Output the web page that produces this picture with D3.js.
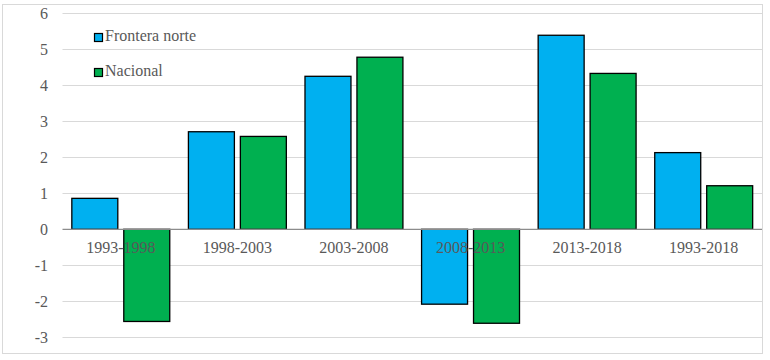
<!DOCTYPE html>
<html>
<head>
<meta charset="utf-8">
<script src="https://cdn.jsdelivr.net/npm/d3@7"></script>
<style>
  body { margin: 0; background: #fff; }
</style>
</head>
<body>
<script>
// Data
const periods = ["1993-1998", "1998-2003", "2003-2008", "2008-2013", "2013-2018", "1993-2018"];
const series = ["Frontera norte", "Nacional"];
const fronteraNorte = [0.86, 2.71, 4.25, -2.08, 5.39, 2.13];
const nacional = [-2.56, 2.58, 4.78, -2.61, 4.33, 1.21];
const yTicks = [-3, -2, -1, 0, 1, 2, 3, 4, 5, 6];
const colors = ["#00b0f0", "#00b050"];

const width = 770;
const height = 360;
const margin = {top: 13.3, right: 8, bottom: 22.7, left: 62.5};
const font = "Liberation Serif";

const svg = d3.select("body").append("svg")
    .attr("width", width)
    .attr("height", height);

// outer chart border
svg.append("rect")
    .attr("x", 2.5).attr("y", 4.5)
    .attr("width", 760).attr("height", 349)
    .attr("fill", "none")
    .attr("stroke", "#d9d9d9");

const x = d3.scaleBand()
    .domain(periods)
    .range([margin.left, width - margin.right])
    .paddingInner(0.16)
    .paddingOuter(0.08);

const xSub = d3.scaleBand()
    .domain(series)
    .range([0, x.bandwidth()])
    .paddingInner(0.115);

const y = d3.scaleLinear()
    .domain([-3, 6])
    .range([height - margin.bottom, margin.top]);

// gridlines
svg.append("g")
    .selectAll("line")
    .data(yTicks.filter(d => d !== 0))
    .enter()
    .append("line")
    .attr("x1", margin.left)
    .attr("x2", width - margin.right)
    .attr("y1", d => Math.round(y(d)) + 0.5)
    .attr("y2", d => Math.round(y(d)) + 0.5)
    .attr("stroke", "#d9d9d9")
    .attr("stroke-width", 1);

// y tick labels
svg.append("g")
    .selectAll("text")
    .data(yTicks)
    .enter()
    .append("text")
    .attr("x", 48)
    .attr("y", d => y(d))
    .attr("dy", "0.33em")
    .attr("text-anchor", "end")
    .attr("font-family", font)
    .attr("font-size", 16)
    .attr("fill", "#595959")
    .text(d => d);

// bars
const rows = periods.map((p, i) => ({period: p, values: [fronteraNorte[i], nacional[i]]}));

const groups = svg.append("g")
    .selectAll("g")
    .data(rows)
    .enter()
    .append("g")
    .attr("transform", d => `translate(${x(d.period)},0)`);

groups.selectAll("rect")
    .data(d => d.values.map((v, j) => ({key: series[j], value: v, idx: j})))
    .enter()
    .append("rect")
    .attr("x", d => xSub(d.key))
    .attr("y", d => y(Math.max(0, d.value)))
    .attr("width", xSub.bandwidth())
    .attr("height", d => Math.abs(y(d.value) - y(0)))
    .attr("fill", d => colors[d.idx])
    .attr("stroke", "#000")
    .attr("stroke-width", 1.3);

// zero axis line
svg.append("line")
    .attr("x1", margin.left)
    .attr("x2", width - margin.right)
    .attr("y1", y(0))
    .attr("y2", y(0))
    .attr("stroke", "#8c8c8c")
    .attr("stroke-width", 1.3);

// category labels
svg.append("g")
    .selectAll("text")
    .data(periods)
    .enter()
    .append("text")
    .attr("x", d => x(d) + x.bandwidth() / 2)
    .attr("y", y(0) + 24)
    .attr("text-anchor", "middle")
    .attr("font-family", font)
    .attr("font-size", 16)
    .attr("fill", "#595959")
    .text(d => d);

// legend
const legend = svg.append("g")
    .selectAll("g")
    .data(series)
    .enter()
    .append("g")
    .attr("transform", (d, i) => `translate(94.5,${33.5 + i * 35})`);

legend.append("rect")
    .attr("width", 8)
    .attr("height", 8)
    .attr("fill", (d, i) => colors[i])
    .attr("stroke", "#000")
    .attr("stroke-width", 1.2);

legend.append("text")
    .attr("x", 10.5)
    .attr("y", 7.5)
    .attr("font-family", font)
    .attr("font-size", 16)
    .attr("fill", "#595959")
    .text(d => d);
</script>
</body>
</html>
